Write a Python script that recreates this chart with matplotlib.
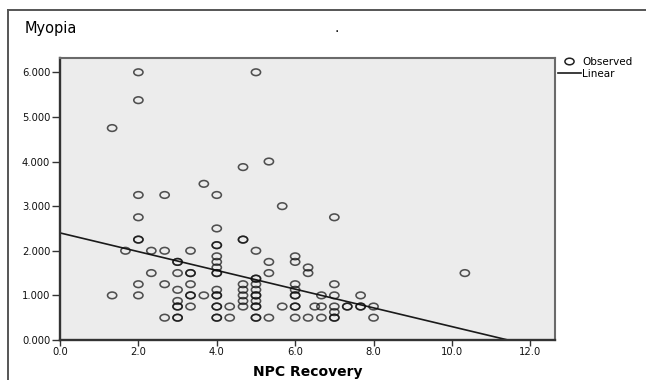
import numpy as np
import matplotlib
matplotlib.use("Agg")
import matplotlib.pyplot as plt
from matplotlib.path import Path
from matplotlib.transforms import Affine2D
from matplotlib.lines import Line2D

# NPC recovery (x) vs myopia (y); repeated pairs are the darker circles
npc_recovery = [
    1.33, 1.33,
    1.67,
    2.0, 2.0, 2.0, 2.0, 2.0, 2.0, 2.0, 2.0,
    2.33, 2.33,
    2.67, 2.67, 2.67, 2.67,
    3.0, 3.0, 3.0, 3.0, 3.0, 3.0, 3.0, 3.0, 3.0,
    3.33, 3.33, 3.33, 3.33, 3.33, 3.33, 3.33,
    3.67, 3.67,
    4.0, 4.0, 4.0, 4.0, 4.0, 4.0, 4.0, 4.0, 4.0, 4.0, 4.0, 4.0, 4.0, 4.0, 4.0, 4.0,
    4.33, 4.33,
    4.67, 4.67, 4.67, 4.67, 4.67, 4.67, 4.67, 4.67,
    5.0, 5.0, 5.0, 5.0, 5.0, 5.0, 5.0, 5.0, 5.0, 5.0, 5.0, 5.0, 5.0,
    5.33, 5.33, 5.33, 5.33,
    5.67, 5.67,
    6.0, 6.0, 6.0, 6.0, 6.0, 6.0, 6.0, 6.0, 6.0,
    6.33, 6.33, 6.33,
    6.5,
    6.67, 6.67, 6.67,
    7.0, 7.0, 7.0, 7.0, 7.0, 7.0, 7.0,
    7.33, 7.33,
    7.67, 7.67, 7.67,
    8.0, 8.0,
    10.33,
]
myopia = [
    4.75, 1.0,
    2.0,
    6.0, 5.375, 3.25, 2.75, 2.25, 2.25, 1.25, 1.0,
    2.0, 1.5,
    3.25, 2.0, 1.25, 0.5,
    1.75, 1.75, 1.5, 1.125, 0.875, 0.75, 0.75, 0.5, 0.5,
    2.0, 1.5, 1.5, 1.25, 1.0, 1.0, 0.75,
    3.5, 1.0,
    3.25, 2.5, 2.125, 2.125, 1.875, 1.75, 1.625, 1.5, 1.5, 1.125, 1.0, 1.0, 0.75, 0.75, 0.5, 0.5,
    0.75, 0.5,
    3.875, 2.25, 2.25, 1.25, 1.125, 1.0, 0.875, 0.75,
    6.0, 2.0, 1.375, 1.375, 1.25, 1.125, 1.0, 1.0, 0.875, 0.75, 0.75, 0.5, 0.5,
    4.0, 1.75, 1.5, 0.5,
    3.0, 0.75,
    1.875, 1.75, 1.25, 1.125, 1.0, 1.0, 0.75, 0.75, 0.5,
    1.625, 1.5, 0.5,
    0.75,
    1.0, 0.75, 0.5,
    2.75, 1.25, 1.0, 0.75, 0.625, 0.5, 0.5,
    0.75, 0.75,
    1.0, 0.75, 0.75,
    0.75, 0.5,
    1.5,
]

# linear fit as drawn on the chart
fit_intercept = 2.40
fit_slope = -0.21

x_ticks = [0, 2, 4, 6, 8, 10, 12]
y_ticks = [0, 1, 2, 3, 4, 5, 6]

fig = plt.figure(figsize=(6.46, 3.80), dpi=100)
ax = fig.add_axes([60 / 646, 40 / 380, 495 / 646, 282 / 380])
ax.set_facecolor("#ececec")

# slightly flattened circle, like the stretched original
ellipse = Path.unit_circle().transformed(Affine2D().scale(1.0, 0.72))
edge = (0.05, 0.05, 0.05, 0.7)

ax.scatter(npc_recovery, myopia, s=44, marker=ellipse, facecolors="none",
           edgecolors=[edge], linewidths=1.15, zorder=3)

xs = np.array([0, 12.63])
ax.plot(xs, fit_intercept + fit_slope * xs, color="#1a1a1a", lw=1.2, zorder=2)

ax.set_xlim(0, 12.63)
ax.set_ylim(0, 6.32)
ax.set_xticks(x_ticks)
ax.set_xticklabels([f"{v:.1f}" for v in x_ticks])
ax.set_yticks(y_ticks)
ax.set_yticklabels([f"{v:.3f}" for v in y_ticks])
ax.tick_params(axis="y", length=6, width=1, color="#333333", pad=1,
               labelsize=7.2, labelcolor="#111111")
ax.tick_params(axis="x", length=4, width=1, color="#333333", pad=1,
               labelsize=7.2, labelcolor="#111111")
for side in ["left", "bottom"]:
    ax.spines[side].set_color("#333333")
    ax.spines[side].set_linewidth(1.7)
for side in ["top", "right"]:
    ax.spines[side].set_color("#6a6a6a")
    ax.spines[side].set_linewidth(1.5)

ax.set_xlabel("NPC Recovery", fontsize=10, fontweight="bold", labelpad=6)

fig.text(25 / 646, 1 - 29 / 380, "Myopia", fontsize=10.5, va="center", ha="left")
fig.text(337 / 646, 1 - 28 / 380, ".", fontsize=10, va="center", ha="center")

handles = [
    Line2D([], [], marker=ellipse, markersize=6.6, markerfacecolor="none",
           markeredgecolor="#222222", markeredgewidth=1.1, linestyle="none"),
    Line2D([], [], color="#1a1a1a", lw=1.2),
]
fig.legend(handles, ["Observed", "Linear"], loc="upper left",
           bbox_to_anchor=(558 / 646, 1 - 57 / 380), frameon=False,
           fontsize=7.5, handlelength=2.2, handletextpad=0.15,
           labelspacing=0.15, borderpad=0, borderaxespad=0)

# outer frame of the original output window
fig.add_artist(Line2D([8 / 646, 8 / 646], [0, 1 - 10 / 380], color="#555555", lw=1.4))
fig.add_artist(Line2D([8 / 646, 1], [1 - 10 / 380, 1 - 10 / 380], color="#555555", lw=1.4))

fig.savefig("out.png", dpi=100)
